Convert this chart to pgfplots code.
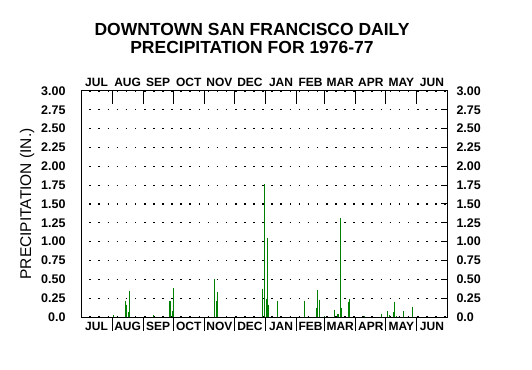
\documentclass[border=0pt]{standalone}
\usepackage{pgfplots}
\pgfplotsset{compat=1.18}
\usepackage{pgfplotstable}
\usepackage{fontspec}
\setmainfont{Liberation Sans}
\definecolor{bargreen}{RGB}{0,128,0}
\pgfplotstableread{
day rain
32.5 0.02
44.5 0.21
45.5 0.16
47.5 0.07
48.5 0.34
72.5 0.02
88.5 0.21
89.5 0.21
91.5 0.08
92.5 0.38
133.5 0.50
135.5 0.21
136.5 0.33
181.5 0.37
182.5 1.76
184.5 0.24
185.5 1.05
186.5 0.16
195.5 0.21
222.5 0.21
234.5 0.12
235.5 0.36
237.5 0.23
242.5 0.01
252.5 0.09
255.5 0.04
256.5 0.04
258.5 1.31
259.5 0.12
266.5 0.20
267.5 0.24
282.5 0.01
299.5 0.04
305.5 0.08
307.5 0.03
311.5 0.07
312.5 0.20
314.5 0.01
321.5 0.08
330.5 0.13
}\raindata
\begin{document}
\begin{tikzpicture}
\pgfplotsset{
  common/.style={
    scale only axis, width=366bp, height=226bp,
    xmin=0, xmax=365, ymin=0, ymax=3,
    ytick={0,0.25,0.5,0.75,1,1.25,1.5,1.75,2,2.25,2.5,2.75,3},
    yticklabels={0.0,0.25,0.50,0.75,1.00,1.25,1.50,1.75,2.00,2.25,2.50,2.75,3.00},
    yticklabel style={font=\bfseries\fontsize{12.5bp}{12.5bp}\selectfont},
    xtick={15.5,46.5,77,107.5,138,168.5,199.5,229,258.5,289,319.5,350},
    xticklabels={JUL,AUG,SEP,OCT,NOV,DEC,JAN,FEB,MAR,APR,MAY,JUN},
    xticklabel style={font=\bfseries\fontsize{12bp}{12bp}\selectfont},
    minor xtick={31,62,92,123,153,184,215,243,274,304,335},
    major x tick style={draw=none},
    minor x tick style={line width=1bp, black},
  }
}
\begin{axis}[common, name=ax,
  axis line style={line width=1bp},
  ytick pos=right, yticklabel pos=left, ytick align=inside,
  major tick length=6bp,
  ytick style={line width=1bp, black},
  yticklabel style={xshift=-12bp},
  ymajorgrids,
  grid style={line width=1.1bp, black, dash pattern=on 1.6bp off 7.5bp, dash phase=0.8bp},
  xtick pos=left, xticklabel pos=left, xtick align=outside,
  minor tick length=14bp,
  xticklabel style={anchor=base, yshift=-7bp},
  clip=false,
]
\addplot[ycomb, line width=1bp, bargreen, mark=none] table[x=day, y=rain] {\raindata};
\end{axis}
\begin{axis}[common, at={(ax.south west)}, anchor=south west,
  axis line style={draw=none},
  ytick pos=right, yticklabel pos=right,
  ytick style={draw=none},
  yticklabel style={xshift=6bp},
  xtick pos=right, xticklabel pos=right, xtick align=inside,
  minor tick length=13bp,
  xticklabel style={anchor=base, yshift=5bp},
]
\end{axis}
\node[rotate=90, font=\fontsize{15.5bp}{15.5bp}\selectfont] at ([xshift=-54bp]ax.west) {PRECIPITATION (IN.)};
\node[anchor=base, font=\bfseries\fontsize{17.5bp}{17.5bp}\selectfont] at ([xshift=-12bp,yshift=55bp]ax.north) {DOWNTOWN SAN FRANCISCO DAILY};
\node[anchor=base, font=\bfseries\fontsize{17.5bp}{17.5bp}\selectfont] at ([xshift=-12bp,yshift=37.7bp]ax.north) {PRECIPITATION FOR 1976-77};
\pgfresetboundingbox
\path ([xshift=-81bp,yshift=-53bp]ax.south west) rectangle ([xshift=451bp,yshift=317bp]ax.south west);
\end{tikzpicture}
\end{document}
